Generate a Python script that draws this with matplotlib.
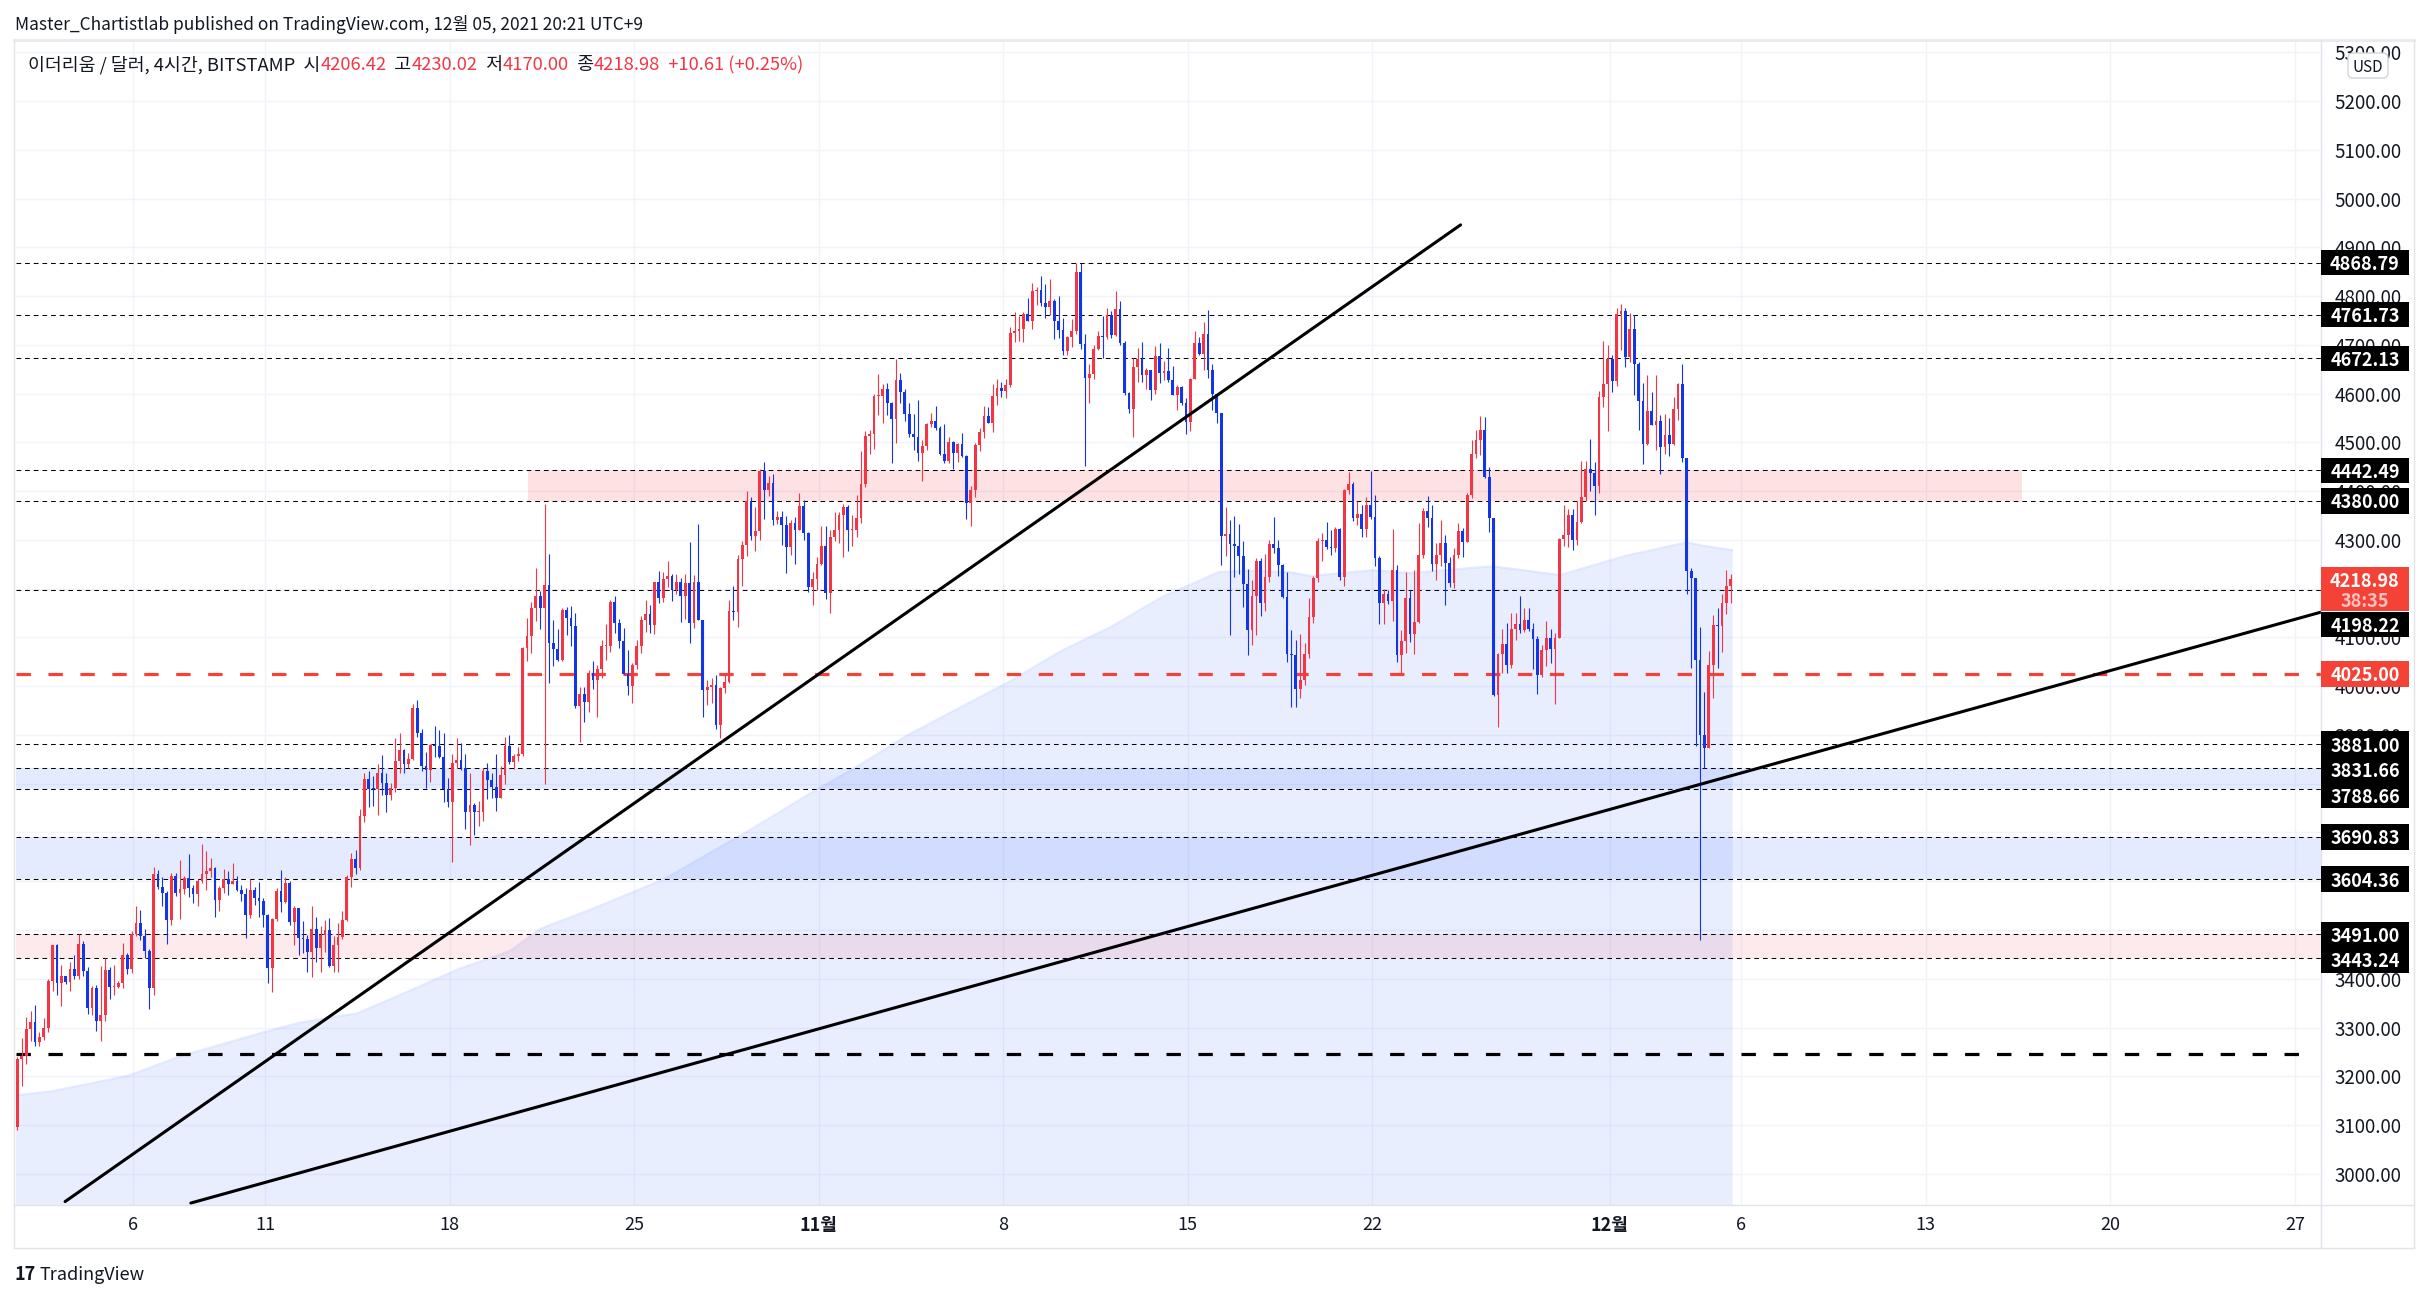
import matplotlib
matplotlib.use("Agg")
import matplotlib.pyplot as plt
import numpy as np
from matplotlib.patches import Rectangle, FancyBboxPatch
from matplotlib.lines import Line2D
from matplotlib.transforms import IdentityTransform

plt.rcParams['font.family'] = ['Noto Sans CJK KR', 'DejaVu Sans']

# ETH/USD 4h candles, Bitstamp, 1 Oct - 5 Dec 2021
first_open = 3095
closes = [
    3236, 3242, 3296, 3312, 3270, 3281, 3298, 3395, 3469, 3391,
    3406, 3393, 3419, 3406, 3471, 3416, 3340, 3382, 3313, 3325,
    3417, 3383, 3383, 3391, 3448, 3419, 3491, 3515, 3488, 3457,
    3380, 3614, 3588, 3575, 3520, 3611, 3576, 3585, 3606, 3586,
    3573, 3600, 3614, 3620, 3628, 3562, 3587, 3605, 3595, 3600,
    3583, 3573, 3530, 3583, 3566, 3559, 3531, 3421, 3522, 3579,
    3557, 3596, 3516, 3546,
    3483, 3482, 3455, 3501, 3464, 3489, 3500, 3427, 3469, 3485,
    3521, 3608, 3646, 3628, 3734, 3810, 3790, 3789, 3822, 3802,
    3776, 3792, 3847, 3870, 3840, 3850, 3955, 3903, 3836, 3828,
    3879, 3877, 3854, 3790, 3762, 3843, 3849, 3833, 3741, 3757,
    3741, 3742, 3826, 3808, 3794, 3771, 3817, 3877, 3845, 3857,
    3861, 4079, 4103, 4161, 4185, 4161, 4207, 4089, 4076, 4054,
    4156, 4140, 4124, 3960,
    3984, 3968, 4026, 4012, 4036, 4082, 4082, 4173, 4130, 4093,
    4025, 4000, 4043, 4082, 4135, 4148, 4125, 4213, 4181, 4219,
    4226, 4197, 4214, 4185, 4211, 4130, 4213, 4135, 3993, 3999,
    4002, 3920, 3997, 4009, 4154, 4152, 4260, 4289, 4379, 4308,
    4318, 4441, 4402, 4417, 4340, 4346, 4330, 4286, 4335, 4321,
    4369, 4314, 4204, 4219, 4250, 4287, 4191, 4306, 4320, 4351,
    4368, 4320, 4320, 4344,
    4414, 4513, 4517, 4595, 4595, 4610, 4581, 4548, 4628, 4604,
    4559, 4518, 4510, 4478, 4492, 4537, 4544, 4530, 4477, 4462,
    4501, 4478, 4496, 4472, 4376, 4403, 4494, 4522, 4554, 4540,
    4595, 4612, 4605, 4617, 4725, 4729, 4732, 4764, 4749, 4810,
    4813, 4786, 4777, 4789, 4749, 4731, 4688, 4716, 4728, 4850,
    4701, 4632, 4641, 4692, 4719, 4716, 4761, 4720, 4773, 4704,
    4601, 4568, 4655, 4670,
    4638, 4648, 4608, 4677, 4643, 4647, 4628, 4597, 4614, 4580,
    4542, 4630, 4704, 4682, 4722, 4648, 4599, 4561, 4308, 4312,
    4291, 4288, 4267, 4209, 4115, 4185, 4257, 4171, 4224, 4291,
    4284, 4248, 4183, 4066, 4064, 3995, 4012, 4066, 4142, 4221,
    4298, 4299, 4286, 4283, 4323, 4223, 4402, 4414, 4344, 4353,
    4323, 4371, 4346, 4263, 4170, 4190, 4175, 4238, 4064, 4093,
    4180, 4106, 4131,
    4270, 4359, 4344, 4250, 4270, 4294, 4253, 4212, 4268, 4319,
    4296, 4391, 4477, 4505, 4526, 4428, 4344, 3981, 4066, 4086,
    4043, 4117, 4127, 4115, 4136, 4117, 4097, 4022, 4074, 4099,
    4077, 4099, 4301, 4310, 4352, 4299, 4336, 4388, 4446, 4437,
    4410, 4594, 4619, 4670, 4626, 4763, 4769, 4674, 4733, 4661,
    4585, 4496, 4564, 4535, 4544, 4490, 4515, 4496, 4568, 4619,
    4468, 4237, 4222, 4054, 3899, 3874, 4043, 4126, 4123, 4170,
    4206.42, 4218.98,
]
highs = [
    3240, 3279, 3322, 3333, 3346, 3290, 3320, 3400, 3470, 3472,
    3428, 3405, 3435, 3448, 3491, 3478, 3425, 3385, 3387, 3426,
    3442, 3425, 3428, 3395, 3474, 3452, 3498, 3549, 3540, 3503,
    3460, 3630, 3623, 3609, 3580, 3616, 3617, 3643, 3610, 3655,
    3593, 3605, 3676, 3662, 3648, 3630, 3590, 3626, 3621, 3637,
    3610, 3592, 3586, 3605, 3588, 3598, 3566, 3533, 3525, 3587,
    3624, 3609, 3600, 3550,
    3543, 3518, 3490, 3549, 3526, 3509, 3521, 3524, 3487, 3514,
    3538, 3613, 3658, 3663, 3748, 3822, 3826, 3815, 3840, 3859,
    3822, 3801, 3893, 3903, 3872, 3862, 3964, 3972, 3913, 3865,
    3882, 3918, 3911, 3903, 3812, 3860, 3894, 3884, 3860, 3821,
    3760, 3764, 3833, 3843, 3822, 3860, 3836, 3896, 3900, 3861,
    3875, 4080, 4140, 4172, 4242, 4195, 4374, 4271, 4136, 4117,
    4161, 4163, 4165, 4150,
    3999, 3999, 4034, 4051, 4043, 4094, 4127, 4176, 4185, 4137,
    4120, 4074, 4048, 4094, 4144, 4176, 4166, 4214, 4236, 4234,
    4256, 4231, 4231, 4221, 4229, 4296, 4228, 4332, 4136, 4012,
    4016, 4022, 3999, 4022, 4176, 4205, 4269, 4298, 4400, 4388,
    4368, 4446, 4460, 4431, 4436, 4359, 4359, 4349, 4340, 4347,
    4397, 4381, 4317, 4234, 4264, 4328, 4328, 4321, 4358, 4358,
    4373, 4371, 4351, 4392,
    4483, 4523, 4526, 4599, 4641, 4619, 4621, 4583, 4670, 4643,
    4609, 4581, 4558, 4586, 4504, 4540, 4561, 4574, 4534, 4537,
    4510, 4503, 4498, 4519, 4475, 4410, 4498, 4530, 4575, 4573,
    4619, 4630, 4624, 4630, 4737, 4768, 4759, 4768, 4795, 4826,
    4818, 4841, 4824, 4834, 4794, 4800, 4754, 4718, 4752, 4867,
    4868, 4722, 4660, 4700, 4728, 4760, 4775, 4770, 4810, 4790,
    4707, 4603, 4672, 4694,
    4706, 4653, 4648, 4698, 4703, 4667, 4694, 4656, 4617, 4615,
    4591, 4631, 4729, 4716, 4747, 4771, 4660, 4599, 4561, 4368,
    4340, 4349, 4332, 4297, 4241, 4217, 4262, 4263, 4272, 4299,
    4347, 4299, 4250, 4234, 4115, 4094, 4107, 4088, 4180, 4225,
    4303, 4314, 4337, 4320, 4327, 4325, 4405, 4440, 4419, 4380,
    4371, 4387, 4442, 4392, 4267, 4199, 4197, 4322, 4249, 4115,
    4234, 4197, 4239,
    4335, 4366, 4390, 4372, 4294, 4341, 4311, 4264, 4283, 4335,
    4324, 4397, 4504, 4526, 4555, 4553, 4450, 4344, 4068, 4117,
    4130, 4150, 4150, 4185, 4161, 4161, 4130, 4103, 4084, 4133,
    4117, 4108, 4303, 4372, 4363, 4364, 4379, 4461, 4461, 4506,
    4459, 4606, 4708, 4699, 4680, 4775, 4784, 4775, 4766, 4762,
    4664, 4621, 4639, 4603, 4639, 4557, 4559, 4550, 4592, 4621,
    4661, 4468, 4243, 4221, 4121, 3988, 4072, 4146, 4161, 4188,
    4239, 4230.02,
]
lows = [
    3090, 3180, 3225, 3272, 3262, 3262, 3275, 3290, 3375, 3366,
    3344, 3390, 3374, 3400, 3400, 3406, 3327, 3325, 3293, 3272,
    3314, 3358, 3366, 3380, 3382, 3410, 3412, 3488, 3480, 3443,
    3337, 3366, 3585, 3549, 3471, 3510, 3570, 3523, 3573, 3568,
    3555, 3549, 3597, 3582, 3609, 3527, 3539, 3575, 3571, 3595,
    3580, 3559, 3484, 3525, 3551, 3527, 3507, 3392, 3372, 3518,
    3537, 3556, 3510, 3469,
    3449, 3452, 3414, 3404, 3434, 3414, 3455, 3425, 3413, 3413,
    3482, 3519, 3589, 3614, 3624, 3721, 3752, 3755, 3736, 3776,
    3741, 3766, 3783, 3821, 3822, 3832, 3848, 3896, 3827, 3792,
    3803, 3854, 3852, 3762, 3752, 3639, 3833, 3828, 3708, 3675,
    3694, 3713, 3723, 3769, 3771, 3743, 3770, 3800, 3840, 3831,
    3847, 3857, 4052, 4069, 4134, 4117, 3800, 4006, 4041, 4052,
    4052, 4105, 4083, 3955,
    3886, 3927, 3947, 3995, 3936, 4016, 4053, 4070, 4109, 4079,
    4025, 3982, 3965, 4036, 4067, 4111, 4108, 4107, 4170, 4172,
    4204, 4175, 4190, 4132, 4137, 4088, 4120, 4135, 3936, 3961,
    3965, 3912, 3893, 3985, 4006, 4135, 4122, 4205, 4267, 4299,
    4277, 4299, 4342, 4390, 4330, 4332, 4289, 4232, 4269, 4250,
    4323, 4299, 4193, 4166, 4197, 4248, 4178, 4150, 4298, 4293,
    4265, 4277, 4287, 4306,
    4334, 4409, 4477, 4487, 4556, 4540, 4556, 4457, 4498, 4580,
    4544, 4511, 4485, 4462, 4421, 4484, 4532, 4526, 4475, 4457,
    4457, 4446, 4459, 4470, 4342, 4329, 4388, 4483, 4508, 4539,
    4522, 4576, 4592, 4590, 4614, 4706, 4708, 4706, 4749, 4732,
    4781, 4779, 4756, 4761, 4712, 4713, 4679, 4679, 4696, 4723,
    4692, 4452, 4580, 4630, 4690, 4672, 4712, 4715, 4718, 4700,
    4597, 4560, 4510, 4624,
    4624, 4610, 4586, 4600, 4622, 4628, 4623, 4597, 4566, 4576,
    4517, 4523, 4631, 4679, 4648, 4632, 4566, 4540, 4248, 4267,
    4105, 4224, 4231, 4163, 4064, 4084, 4105, 4144, 4154, 4214,
    4273, 4226, 4180, 4050, 3958, 3958, 3976, 4002, 4057, 4130,
    4214, 4256, 4282, 4269, 4275, 4217, 4205, 4395, 4339, 4330,
    4305, 4305, 4342, 4247, 4128, 4128, 4168, 4133, 4050, 4026,
    4067, 4091, 4066,
    4130, 4263, 4326, 4237, 4217, 4246, 4166, 4203, 4201, 4263,
    4265, 4295, 4386, 4468, 4475, 4426, 4317, 3979, 3917, 4028,
    4028, 4037, 4095, 4108, 4111, 4114, 4035, 3983, 4019, 4041,
    4048, 3963, 4099, 4288, 4286, 4280, 4290, 4334, 4379, 4401,
    4350, 4397, 4573, 4523, 4603, 4615, 4690, 4655, 4664, 4597,
    4526, 4456, 4495, 4535, 4484, 4435, 4477, 4472, 4494, 4546,
    4459, 4188, 4038, 3877, 3480, 3832, 3874, 3976, 4038, 4070,
    4148, 4170.00,
]

# shaded average band (top edge), days since 1 Oct
area_days = [0.51, 1.88, 4.80, 6.88, 7.68, 9.92, 11.32, 13.49, 15.42, 17.35,
             19.29, 20.46, 22.21, 25.09, 27.03, 28.39, 30.52, 32.45, 34.39, 36.32,
             38.26, 40.19, 42.13, 44.06, 45.35, 46.15, 47.25, 48.88, 49.64, 52.03,
             53.43, 56.58, 59.12, 61.66, 63.94, 64.55, 65.65]
area_vals = [3161, 3169, 3201, 3243, 3255, 3290, 3310, 3329, 3374, 3420,
             3457, 3503, 3539, 3603, 3663, 3705, 3775, 3835, 3900, 3955,
             4010, 4072, 4123, 4184, 4214, 4234, 4237, 4234, 4226, 4238,
             4232, 4246, 4228, 4268, 4295, 4288, 4279]

tick_days = [5, 10, 17, 24, 31, 38, 45, 52, 61, 66, 73, 80, 87]
tick_labels = ['6', '11', '18', '25', '11월', '8', '15', '22', '12월', '6', '13', '20', '27']

levels = [4868.79, 4761.73, 4672.13, 4442.49, 4380.00, 4198.22,
          3881.00, 3831.66, 3788.66, 3690.83, 3604.36, 3491.00, 3443.24]
red_level = 4025.00
black_level = 3245
pink_box = (19.99, 76.65, 4380.00, 4442.49)
blue_bands = [(3788.66, 3831.66), (3604.36, 3690.83)]
pink_band = (3443.24, 3491.00)
trend1 = ([2.41, 55.35], [2943, 4946])
trend2 = ([7.18, 88.0], [2940, 4152])

o_last, h_last, l_last, c_last = 4206.42, 4230.02, 4170.00, 4218.98
chg, chg_pct = 10.61, 0.25

UP = '#f23645'
DOWN = '#1235e8'
TXT = '#131722'

W, H = 2431, 1299
fig = plt.figure(figsize=(W / 100, H / 100), dpi=100)
L, R, T, B = 15.5, 2321, 42, 1205
ax = fig.add_axes([L / W, 1 - B / H, (R - L) / W, (B - T) / H])
ax.set_xlim(0.529, 87.99)
ax.set_ylim(2936, 5321)
for s in ax.spines.values():
    s.set_visible(False)

# grid and ticks
ax.set_axisbelow(True)
ax.set_yticks(np.arange(3000, 5301, 100))
ax.set_yticklabels(['%.2f' % v for v in np.arange(3000, 5301, 100)])
ax.set_xticks(tick_days)
ax.set_xticklabels(tick_labels)
for lab in ax.get_xticklabels():
    if '월' in lab.get_text():
        lab.set_fontweight('bold')
ax.grid(True, color='#f0f3fa', lw=1)
ax.yaxis.tick_right()
ax.tick_params(axis='y', length=0, pad=10, labelsize=13.5, labelcolor=TXT)
ax.tick_params(axis='x', length=0, pad=8, labelsize=13, labelcolor=TXT)

# shaded area
ax.fill_between(area_days, area_vals, 2936, color='#2962ff', alpha=0.1, lw=0, zorder=1)
ax.plot(area_days, area_vals, color='#2962ff', alpha=0.12, lw=1.5, zorder=1)

# zones
ax.add_patch(Rectangle((pink_box[0], pink_box[2]), pink_box[1] - pink_box[0],
                       pink_box[3] - pink_box[2], color='#f23645', alpha=0.15, lw=0, zorder=1.5))
for lo, hi in blue_bands:
    ax.axhspan(lo, hi, color='#2962ff', alpha=0.12, lw=0, zorder=1.5)
ax.axhspan(pink_band[0], pink_band[1], color='#f23645', alpha=0.1, lw=0, zorder=1.5)

# levels
for lv in levels:
    ax.axhline(lv, color='black', lw=0.75, ls=(0, (4.5, 3.8)), zorder=3)
ax.axhline(red_level, color='#f44336', lw=2.3, ls=(0, (4.5, 5.5)), zorder=3)
ax.plot([0.529, 87.4], [black_level, black_level], color='black', lw=2.3,
        ls=(0, (4.5, 5.5)), zorder=3)

# candles
n = len(closes)
xs = 0.6 + np.arange(n) / 6.0
opens = np.array([first_open] + closes[:-1], dtype=float)
cl = np.array(closes, dtype=float)
hi = np.maximum(np.array(highs, dtype=float), np.maximum(opens, cl))
lo = np.minimum(np.array(lows, dtype=float), np.minimum(opens, cl))
cols = [UP if c >= o else DOWN for o, c in zip(opens, cl)]
ax.vlines(xs, lo, hi, colors=cols, lw=0.8, zorder=4)
body = np.maximum(np.abs(cl - opens), 2.5)
ax.bar(xs, body, bottom=np.minimum(opens, cl), width=0.105, color=cols, lw=0, zorder=4)

# trend lines
ax.plot(trend1[0], trend1[1], color='black', lw=2.2, zorder=5, solid_capstyle='round')
ax.plot(trend2[0], trend2[1], color='black', lw=2.2, zorder=5, solid_capstyle='round')

# ---- overlays in pixel coordinates ----
ID = IdentityTransform()


def ypx(price):
    # pixel row measured from the top of the image
    return H - ax.transData.transform((1, price))[1]


def hline(x0, x1, y, c='#e0e3eb', lw=1.0):
    fig.add_artist(Line2D([x0, x1], [H - y, H - y], color=c, lw=lw, transform=ID))


def vline(x, y0, y1, c='#e0e3eb', lw=1.0):
    fig.add_artist(Line2D([x, x], [H - y0, H - y1], color=c, lw=lw, transform=ID))


hline(14, 2414, 40, c='#e9ebf0', lw=2.2)
hline(14, 2414, 1205)
hline(14, 2414, 1248)
vline(14, 40, 1248)
vline(2321, 40, 1248)
vline(2414, 40, 1248)

BOX_H = 25.5


def box(yc, text, face, tcol='white', lines2=None):
    top = yc - BOX_H / 2
    hh = BOX_H if lines2 is None else BOX_H + 19
    fig.patches.append(Rectangle((2321, H - top - hh), 88, hh, transform=ID,
                                 fc=face, ec='none', zorder=5))
    fig.text(2365, H - yc, text, transform=ID, color=tcol, fontsize=13, fontweight='bold',
             ha='center', va='center_baseline', zorder=6)
    if lines2 is not None:
        fig.text(2365, H - yc - 20, lines2[0], transform=ID, color=lines2[1], fontsize=13,
                 fontweight='bold', ha='center', va='center_baseline', zorder=6)
    return top + hh


red_bottom = box(ypx(c_last), '%.2f' % c_last, '#f44336', lines2=('38:35', '#ffc2c2'))

# stack black labels so they never overlap (like the price scale does)
prev_y = -1e9
for lv in sorted(levels, reverse=True):
    yc = ypx(lv)
    if abs(yc - ypx(c_last)) < 40:
        yc = red_bottom + BOX_H / 2 + 0.5
    yc = max(yc, prev_y + BOX_H)
    box(yc, '%.2f' % lv, 'black')
    prev_y = yc
box(ypx(red_level), '%.2f' % red_level, '#f44336')

fig.patches.append(FancyBboxPatch((2348, H - 78), 40, 25, boxstyle='round,pad=0,rounding_size=5',
                                  transform=ID, fc='white', ec='#d1d4dc', lw=1, zorder=5))
fig.text(2368, H - 65.5, 'USD', transform=ID, color=TXT, fontsize=11,
         ha='center', va='center_baseline', zorder=6)

# header
fig.text(15, H - 22, 'Master_Chartistlab published on TradingView.com, 12월 05, 2021 20:21 UTC+9',
         transform=ID, color=TXT, fontsize=12.5, ha='left', va='center_baseline')

# legend line with coloured values
parts = [('이더리움 / 달러, 4시간, BITSTAMP  시', TXT), ('%.2f' % o_last, UP),
         ('  고', TXT), ('%.2f' % h_last, UP), ('  저', TXT), ('%.2f' % l_last, UP),
         ('  종', TXT), ('%.2f' % c_last, UP), ('  +%.2f (+%.2f%%)' % (chg, chg_pct), UP)]
prev = fig.text(28, H - 74, parts[0][0], transform=ID, color=parts[0][1], fontsize=13.2,
                ha='left', va='bottom')
for s, c in parts[1:]:
    prev = ax.annotate(s, xy=(1, 0), xycoords=prev, xytext=(0, 0), textcoords='offset points',
                       color=c, fontsize=13.2, ha='left', va='bottom', annotation_clip=False)

# footer logo
fig.text(15, H - 1273, '17', transform=ID, color=TXT, fontsize=13, fontweight='bold',
         ha='left', va='center_baseline')
fig.text(40, H - 1273, 'TradingView', transform=ID, color=TXT, fontsize=13,
         ha='left', va='center_baseline')

fig.savefig('out.png', dpi=100)
